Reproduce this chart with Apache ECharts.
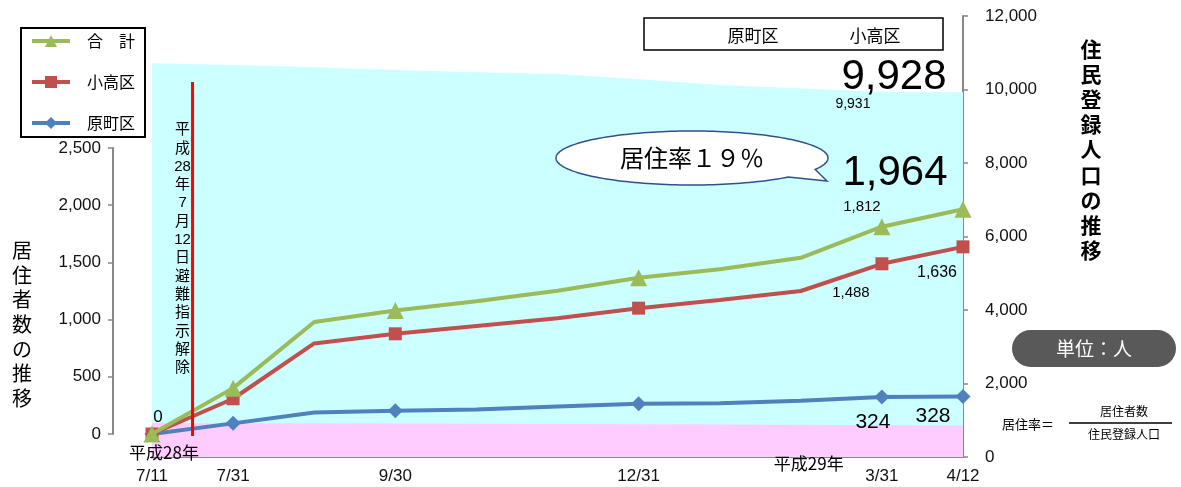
<!DOCTYPE html>
<html><head><meta charset="utf-8">
<script src="https://cdn.jsdelivr.net/npm/echarts@6/dist/echarts.min.js"></script>
<style>html,body{margin:0;padding:0;background:#fff}#c{width:1181px;height:487px}</style>
</head><body><div id="c"></div>
<script>
// ---- data ----
const categories = ['7/11','7/31','8/31','9/30','10/31','11/30','12/31','1/31','2/28','3/31','4/12'];
const tickLabels = ['7/11','7/31','','9/30','','','12/31','','','3/31','4/12'];
const totalResidents     = [0, 401, 979, 1080, 1160, 1252, 1365, 1440, 1540, 1812, 1964];
const odakaResidents     = [0, 308, 792, 876, 945, 1012, 1100, 1172, 1250, 1488, 1636];
const haramachiResidents = [0, 93, 187, 204, 215, 240, 265, 268, 290, 324, 328];
const registeredTotal     = [10713, 10667, 10604, 10531, 10468, 10422, 10277, 10122, 10027, 9931, 9928];
const registeredHaramachi = [925, 920, 915, 910, 905, 900, 893, 885, 875, 862, 855];
const markerIdx = [0, 1, 3, 6, 9, 10];
const seriesNames = ['合　計', '小高区', '原町区'];

const FONT = "'Liberation Sans','Noto Sans CJK JP',sans-serif";
const JP = "'Noto Sans CJK JP',sans-serif";
const fmt = p => Number(p.value).toLocaleString('en-US');

function pts(values, labels, hideAll) {
  return values.map((v, i) => {
    const d = { value: v };
    if (hideAll) {
      if (!(labels && labels[i])) d.symbol = 'none';
    } else if (!markerIdx.includes(i)) d.symbol = 'none';
    if (labels && labels[i]) {
      d.label = Object.assign({ show: true, position: 'inside', color: '#000', fontFamily: FONT, formatter: fmt }, labels[i]);
    }
    return d;
  });
}

const chart = echarts.init(document.getElementById('c'), null, { renderer: 'canvas' });

const option = {
  animation: false,
  backgroundColor: '#fff',
  grid: [
    { left: 152, right: 218, top: 148, bottom: 53 },
    { left: 152, right: 218, top: 16, bottom: 30 }
  ],
  xAxis: [
    { type: 'category', gridIndex: 0, data: categories, boundaryGap: false, show: false },
    { type: 'category', gridIndex: 1, data: categories, boundaryGap: false,
      axisLine: { lineStyle: { color: '#888', width: 2 } },
      axisTick: { show: false },
      axisLabel: { interval: 0, margin: 11, fontSize: 17, color: '#111', fontFamily: FONT,
        formatter: (v, i) => tickLabels[i] } }
  ],
  yAxis: [
    { type: 'value', gridIndex: 0, min: 0, max: 2500, interval: 500, position: 'left', offset: 39,
      axisLine: { show: true, lineStyle: { color: '#888', width: 2 } },
      axisTick: { show: true, length: 5, lineStyle: { color: '#888', width: 1.5 } },
      splitLine: { show: false },
      axisLabel: { fontSize: 17, color: '#111', fontFamily: FONT, margin: 12,
        formatter: v => v.toLocaleString('en-US') } },
    { type: 'value', gridIndex: 1, min: 0, max: 12000, interval: 2000, position: 'right',
      axisLine: { show: true, lineStyle: { color: '#888', width: 2 } },
      axisTick: { show: true, length: 5, lineStyle: { color: '#888', width: 1.5 } },
      splitLine: { show: false },
      axisLabel: { fontSize: 17, color: '#111', fontFamily: FONT, margin: 22,
        formatter: v => v.toLocaleString('en-US') } }
  ],
  legend: {
    data: seriesNames,
    orient: 'vertical', left: 21, top: 28,
    width: 117,
    padding: [5, 10, 6, 9],
    itemGap: 25, itemWidth: 38, itemHeight: 15,
    borderColor: '#000', borderWidth: 2,
    lineStyle: { width: 4 },
    textStyle: { fontSize: 16, color: '#000', fontFamily: JP, padding: [0, 0, 0, 12] }
  },
  series: [
    { name: '住民登録人口', type: 'line', xAxisIndex: 1, yAxisIndex: 1, z: 1,
      data: pts(registeredTotal, { 9: { offset: [-29, 12], fontSize: 14 }, 10: { offset: [-69, -15], fontSize: 42 } }, true),
      symbol: 'circle', symbolSize: 1, itemStyle: { color: 'rgba(0,0,0,0)' },
      lineStyle: { width: 0 }, areaStyle: { color: '#CCFFFF', opacity: 1 } },
    { name: '原町区住民登録人口', type: 'line', xAxisIndex: 1, yAxisIndex: 1, z: 1,
      data: registeredHaramachi, symbol: 'none',
      lineStyle: { width: 0 }, areaStyle: { color: '#FFCCFF', opacity: 1 } },
    { name: seriesNames[0], type: 'line', xAxisIndex: 0, yAxisIndex: 0, z: 4,
      data: pts(totalResidents, { 9: { offset: [-20, -20], fontSize: 15 }, 10: { offset: [-68, -36], fontSize: 42 } }),
      symbol: 'triangle', symbolSize: 17, color: '#9BBB59',
      lineStyle: { width: 4, color: '#9BBB59' }, itemStyle: { color: '#9BBB59' } },
    { name: seriesNames[1], type: 'line', xAxisIndex: 0, yAxisIndex: 0, z: 3,
      data: pts(odakaResidents, { 9: { offset: [-31, 29], fontSize: 15 }, 10: { offset: [-26, 26], fontSize: 16 } }),
      symbol: 'rect', symbolSize: 13, color: '#C0504D',
      lineStyle: { width: 4, color: '#C0504D' }, itemStyle: { color: '#C0504D' } },
    { name: seriesNames[2], type: 'line', xAxisIndex: 0, yAxisIndex: 0, z: 2,
      data: pts(haramachiResidents, { 0: { offset: [6, -17], fontSize: 17 }, 9: { offset: [-9, 25], fontSize: 21 }, 10: { offset: [-30, 20], fontSize: 21 } }),
      symbol: 'diamond', symbolSize: 15, color: '#4F81BD',
      lineStyle: { width: 4, color: '#4F81BD' }, itemStyle: { color: '#4F81BD' } }
  ]
};
chart.setOption(option);

// ---- annotations ----
const x0 = chart.convertToPixel({ xAxisIndex: 0 }, categories[0]);
const x1 = chart.convertToPixel({ xAxisIndex: 0 }, categories[1]);
const x8 = chart.convertToPixel({ xAxisIndex: 1 }, categories[8]);
const yZeroL = chart.convertToPixel({ yAxisIndex: 0 }, 0);
const yZeroR = chart.convertToPixel({ yAxisIndex: 1 }, 0);
const xLift = (x0 + x1) / 2;

// speech-bubble outline (ellipse with a small tail)
const bubble = [];
const cx = 692, cy = 158, rx = 136, ry = 27;
for (let a = 45; a <= 385; a += 2) {
  const t = a * Math.PI / 180;
  bubble.push([cx + rx * Math.cos(t), cy + ry * Math.sin(t)]);
}
bubble.push([827, 181]);

chart.setOption({ graphic: [
  { type: 'line', z: 10, shape: { x1: xLift, y1: 82, x2: xLift, y2: yZeroL + 2 },
    style: { stroke: '#FF0000', lineWidth: 3 } },
  { type: 'text', z: 20, x: xLift - 10, y: 121,
    style: { text: '平\n成\n28\n年\n7\n月\n12\n日\n避\n難\n指\n示\n解\n除', font: '15px ' + FONT,
      fill: '#000', align: 'center', lineHeight: 18.3 } },
  { type: 'text', z: 20, x: x0 + 12, y: yZeroR - 4,
    style: { text: '平成28年', font: '17px ' + JP, fill: '#000', align: 'center', verticalAlign: 'middle' } },
  { type: 'text', z: 20, x: x8 + 8, y: yZeroR + 7,
    style: { text: '平成29年', font: '17px ' + JP, fill: '#000', align: 'center', verticalAlign: 'middle' } },
  { type: 'text', z: 20, x: 22, y: 238,
    style: { text: '居\n住\n者\n数\nの\n推\n移', font: '20px ' + JP, fill: '#000', align: 'center', lineHeight: 24.7 } },
  { type: 'text', z: 20, x: 1091, y: 36,
    style: { text: '住\n民\n登\n録\n人\n口\nの\n推\n移', font: 'bold 21px ' + JP, fill: '#000', align: 'center', lineHeight: 25.2 } },
  { type: 'rect', z: 20, shape: { x: 644, y: 18, width: 299, height: 32 },
    style: { fill: '#fff', stroke: '#000', lineWidth: 1.5 } },
  { type: 'text', z: 21, x: 753, y: 36,
    style: { text: '原町区', font: '17px ' + JP, fill: '#000', align: 'center', verticalAlign: 'middle' } },
  { type: 'text', z: 21, x: 875, y: 36,
    style: { text: '小高区', font: '17px ' + JP, fill: '#000', align: 'center', verticalAlign: 'middle' } },
  { type: 'polygon', z: 20, shape: { points: bubble },
    style: { fill: '#fff', stroke: '#2F528F', lineWidth: 1.5 } },
  { type: 'text', z: 21, x: 692, y: 158,
    style: { text: '居住率１９％', font: '24px ' + JP, fill: '#000', align: 'center', verticalAlign: 'middle' } },
  { type: 'rect', z: 20, shape: { x: 1012, y: 330, width: 164, height: 37, r: 18.5 },
    style: { fill: '#595959' } },
  { type: 'text', z: 21, x: 1094, y: 348.5,
    style: { text: '単位：人', font: '19px ' + JP, fill: '#fff', align: 'center', verticalAlign: 'middle' } },
  { type: 'text', z: 21, x: 1002, y: 424,
    style: { text: '居住率＝', font: '13px ' + JP, fill: '#000', align: 'left', verticalAlign: 'middle' } },
  { type: 'line', z: 21, shape: { x1: 1069, y1: 423, x2: 1172, y2: 423 },
    style: { stroke: '#000', lineWidth: 1.5 } },
  { type: 'text', z: 21, x: 1124, y: 411,
    style: { text: '居住者数', font: '12px ' + JP, fill: '#000', align: 'center', verticalAlign: 'middle' } },
  { type: 'text', z: 21, x: 1124, y: 434,
    style: { text: '住民登録人口', font: '12px ' + JP, fill: '#000', align: 'center', verticalAlign: 'middle' } }
] });
</script></body></html>
